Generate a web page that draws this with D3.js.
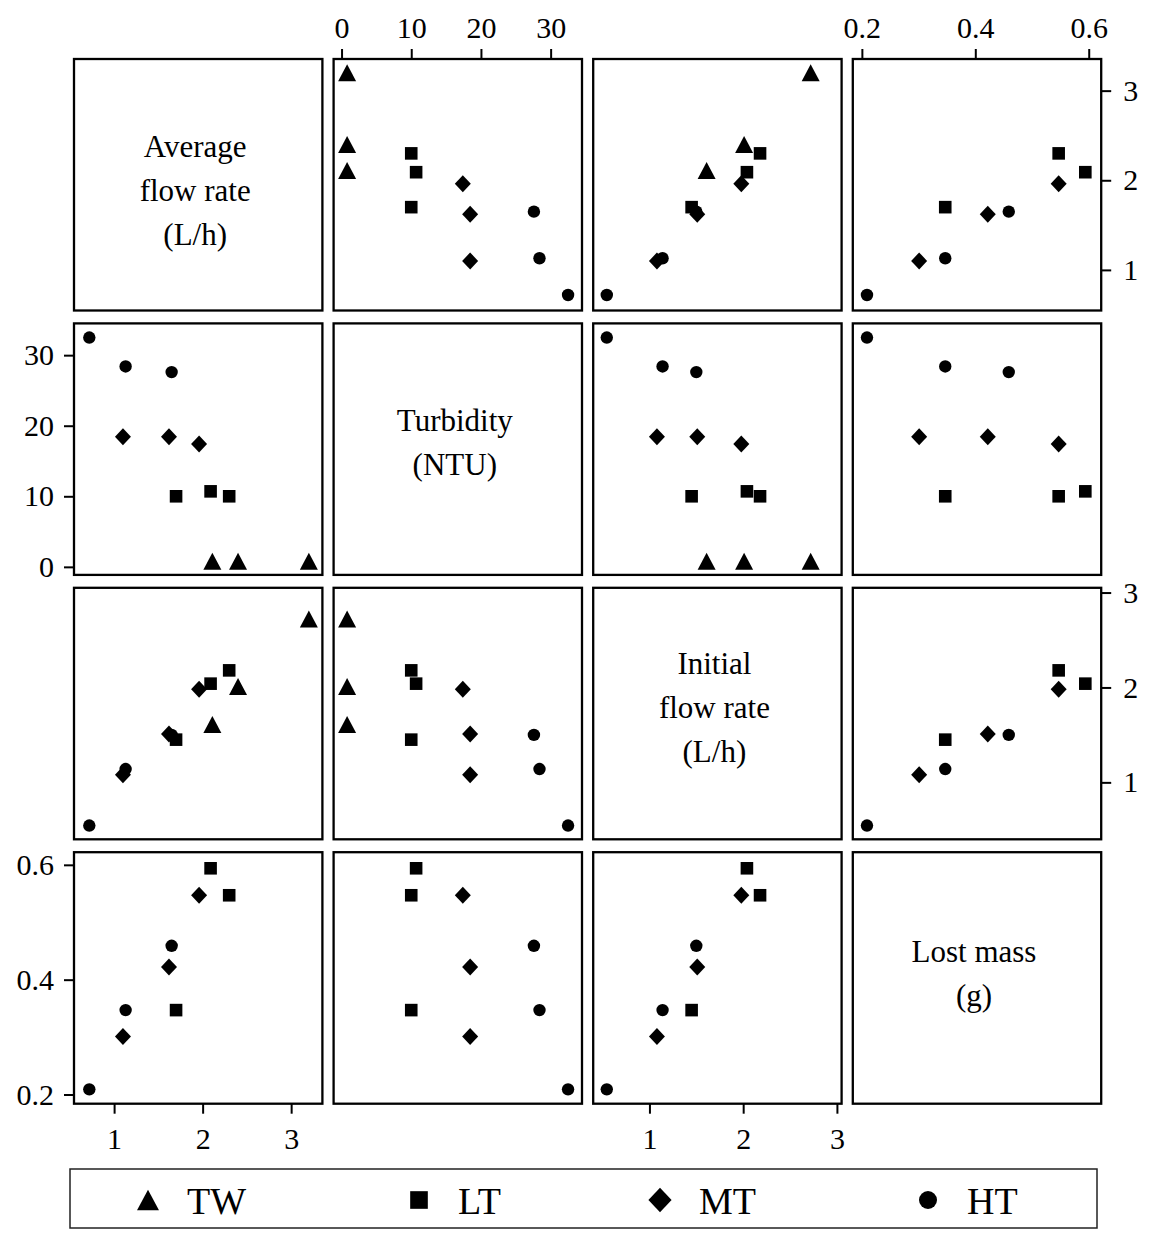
<!DOCTYPE html>
<html>
<head>
<meta charset="utf-8">
<script src="https://cdn.jsdelivr.net/npm/d3@7"></script>
<style>
    body { margin: 0; background: #fff; }
    svg text { font-family: "Liberation Serif", "Times New Roman", serif; fill: #000; }
    .axis .tick line { stroke: #000; stroke-width: 2; }
    .axis .tick text { font-size: 30px; }
    .axis .domain { display: none; }
    .frame { fill: none; stroke: #000; stroke-width: 2.3; }
    .diag-label { font-size: 31px; }
    .legend-box { fill: none; stroke: #222; stroke-width: 1.5; }
    .legend-label { font-size: 38px; }
</style>
</head>
<body>
<svg id="chart" width="1152" height="1236"></svg>
<script>
// groups and per-observation data (TW has no lost mass value)
var groups = ["TW", "LT", "MT", "HT"];
var group = ["TW", "TW", "TW", "LT", "LT", "LT", "MT", "MT", "MT", "HT", "HT", "HT"];
var avgFlow = [3.20, 2.40, 2.11, 1.70, 2.09, 2.30, 1.96, 1.62, 1.10, 0.72, 1.13, 1.65];
var turbidity = [0.8, 0.8, 0.8, 10.0, 10.7, 10.0, 17.4, 18.45, 18.45, 32.5, 28.4, 27.6];
var initFlow = [2.72, 2.01, 1.61, 1.45, 2.04, 2.18, 1.98, 1.51, 1.08, 0.545, 1.14, 1.50];
var lostMass = [null, null, null, 0.347, 0.594, 0.547, 0.547, 0.422, 0.301, 0.209, 0.347, 0.459];

// axis ranges and tick labels
var avgDomain = [0.547, 3.353];
var turbDomain = [-1.14, 34.5];
var initDomain = [0.40, 3.05];
var lostDomain = [0.184, 0.622];
var avgTicks = [1, 2, 3];
var turbTicks = [0, 10, 20, 30];
var initTicks = [1, 2, 3];
var lostTicks = [0.2, 0.4, 0.6];

var variables = [
    {label: ["Average", "flow rate", "(L/h)"], values: avgFlow, domain: avgDomain, ticks: avgTicks, fmt: d3.format("d"), shift: 10},
    {label: ["Turbidity", "(NTU)"], values: turbidity, domain: turbDomain, ticks: turbTicks, fmt: d3.format("d"), shift: -2},
    {label: ["Initial", "flow rate", "(L/h)"], values: initFlow, domain: initDomain, ticks: initTicks, fmt: d3.format("d"), shift: -2},
    {label: ["Lost mass", "(g)"], values: lostMass, domain: lostDomain, ticks: lostTicks, fmt: d3.format(".1f"), shift: 0}
];

var left0 = 74, top0 = 59, colStep = 259.6, rowStep = 264.4;
var cellW = 248.4, cellH = 251.5, tickLen = 10;

// marker shapes, centred on the point
function shapePath(g, s) {
    var k = s || 1;
    if (g === "TW") {
        var w = 18 * k, h = 17 * k;
        return "M0," + (-h / 2) + "L" + (w / 2) + "," + (h / 2) + "L" + (-w / 2) + "," + (h / 2) + "Z";
    }
    if (g === "LT") {
        var a = 6.3 * k;
        return "M" + (-a) + "," + (-a) + "H" + a + "V" + a + "H" + (-a) + "Z";
    }
    if (g === "MT") {
        var dw = 8 * k, dh = 8.5 * k;
        return "M0," + (-dh) + "L" + dw + ",0L0," + dh + "L" + (-dw) + ",0Z";
    }
    return d3.symbol().type(d3.symbolCircle).size(Math.PI * Math.pow(6.2 * k, 2))();
}

var svg = d3.select("#chart");
var n = variables.length;

for (var i = 0; i < n; i++) {
    for (var j = 0; j < n; j++) {
        var x0 = left0 + j * colStep, y0 = top0 + i * rowStep;
        var cell = svg.append("g").attr("class", "cell");
        var xv = variables[j], yv = variables[i];
        var x = d3.scaleLinear().domain(xv.domain).range([x0, x0 + cellW]);
        var y = d3.scaleLinear().domain(yv.domain).range([y0 + cellH, y0]);

        if (i === j) {
            var lines = xv.label;
            var lh = 44;
            var yc = y0 + cellH / 2 - 5 + xv.shift;
            cell.selectAll("text.diag-label")
                .data(lines)
                .enter().append("text")
                .attr("class", "diag-label")
                .attr("text-anchor", "middle")
                .attr("x", x0 + cellW / 2 - 3)
                .attr("y", function (d, k) {
                    return yc + (k - (lines.length - 1) / 2) * lh + 11;
                })
                .text(function (d) { return d; });
        } else {
            var pts = group.map(function (g, k) {
                return {g: g, x: xv.values[k], y: yv.values[k]};
            }).filter(function (p) { return p.x != null && p.y != null; });
            cell.selectAll("path.pt")
                .data(pts)
                .enter().append("path")
                .attr("class", "pt")
                .attr("fill", "#000")
                .attr("transform", function (p) { return "translate(" + x(p.x) + "," + y(p.y) + ")"; })
                .attr("d", function (p) { return shapePath(p.g); });
        }

        // alternating outer axes, as in a lattice scatter matrix
        if (i === 0 && j % 2 === 1) {
            cell.append("g").attr("class", "axis")
                .attr("transform", "translate(0," + y0 + ")")
                .call(d3.axisTop(x).tickValues(xv.ticks).tickFormat(xv.fmt).tickSize(tickLen).tickPadding(11));
        }
        if (i === n - 1 && j % 2 === 0) {
            cell.append("g").attr("class", "axis")
                .attr("transform", "translate(0," + (y0 + cellH) + ")")
                .call(d3.axisBottom(x).tickValues(xv.ticks).tickFormat(xv.fmt).tickSize(tickLen).tickPadding(14));
        }
        if (j === 0 && i % 2 === 1) {
            cell.append("g").attr("class", "axis")
                .attr("transform", "translate(" + x0 + ",0)")
                .call(d3.axisLeft(y).tickValues(yv.ticks).tickFormat(yv.fmt).tickSize(tickLen).tickPadding(10));
        }
        if (j === n - 1 && i % 2 === 0) {
            cell.append("g").attr("class", "axis")
                .attr("transform", "translate(" + (x0 + cellW) + ",0)")
                .call(d3.axisRight(y).tickValues(yv.ticks).tickFormat(yv.fmt).tickSize(tickLen).tickPadding(12));
        }

        cell.append("rect")
            .attr("class", "frame")
            .attr("x", x0).attr("y", y0)
            .attr("width", cellW).attr("height", cellH);
    }
}

// legend
var legendX = [148, 419, 660, 928];
var legend = svg.append("g").attr("class", "legend");
legend.append("rect")
    .attr("class", "legend-box")
    .attr("x", 70).attr("y", 1169)
    .attr("width", 1027).attr("height", 59);
var item = legend.selectAll("g.item")
    .data(groups)
    .enter().append("g")
    .attr("class", "item")
    .attr("transform", function (d, k) { return "translate(" + legendX[k] + ",1200)"; });
item.append("path")
    .attr("fill", "#000")
    .attr("d", function (d) { return shapePath(d, d === "LT" ? 1.4 : (d === "MT" ? 1.45 : (d === "HT" ? 1.45 : 1.22))); });
item.append("text")
    .attr("class", "legend-label")
    .attr("x", 39)
    .attr("y", 14)
    .text(function (d) { return d; });
</script>
</body>
</html>
